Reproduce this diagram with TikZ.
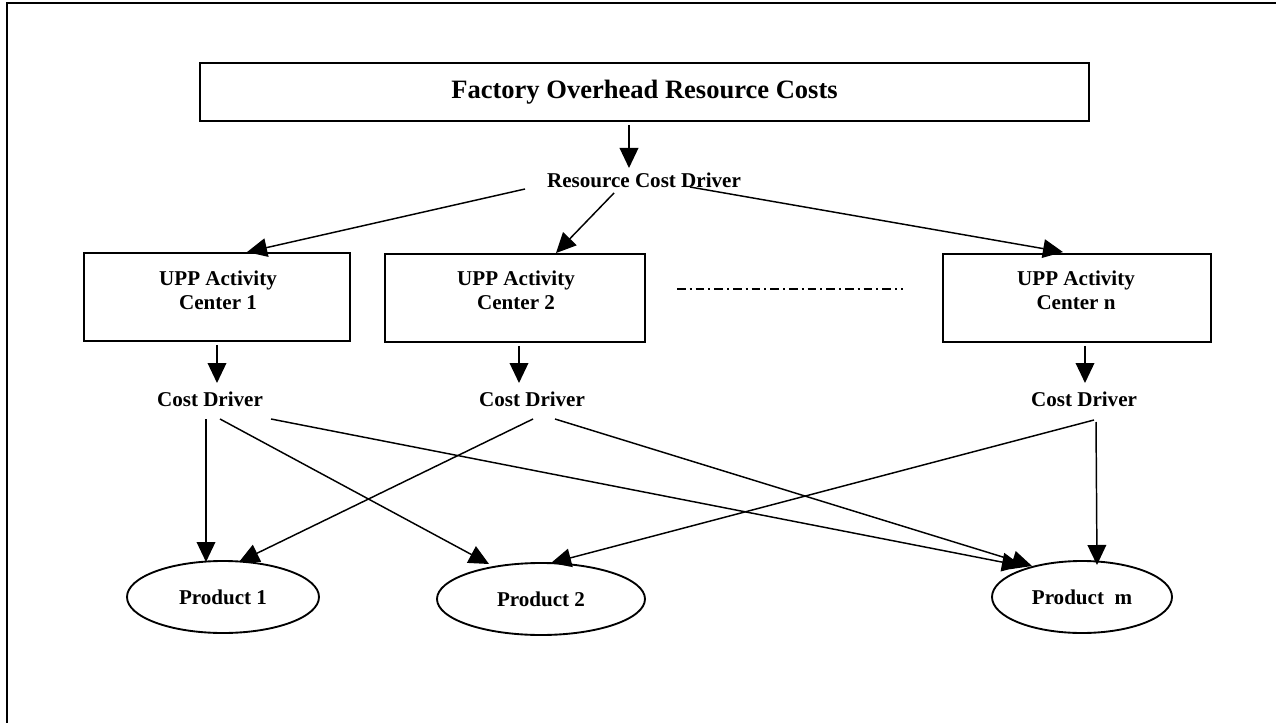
\documentclass[tikz,border=0pt]{standalone}
\usepackage{fontspec}
\setmainfont{Liberation Serif}
\usetikzlibrary{arrows.meta,shapes.geometric,calc}

\begin{document}
\begin{tikzpicture}[x=0.75pt,y=-0.75pt,
  box/.style={draw,line width=1.4pt,inner sep=0pt},
  lbl/.style={font=\bfseries\fontsize{15.8}{18}\selectfont,align=center,inner sep=0pt},
  prod/.style={draw,ellipse,line width=1.4pt,inner sep=0pt,minimum height=54pt,
    font=\bfseries\fontsize{15.8}{18}\selectfont},
  arr/.style={line width=1.1pt,-{Triangle[length=15pt,width=14pt]}},
  dashdot line/.style={line width=1.1pt,dash pattern=on 6.5pt off 3pt on 1.5pt off 3pt}
]
\useasboundingbox (0,0) rectangle (1276,723);
\fill[white] (0,0) rectangle (1276,723);

% outer frame
\draw[line width=2pt] (7,730) -- (7,3) -- (1290,3);

% resource pool
\node[box,minimum width=666.75pt,minimum height=43.5pt,
  font=\bfseries\fontsize{19.9}{22}\selectfont] (top) at (644.5,92) {Factory Overhead Resource Costs};
\node[lbl] (rcd) at (644,180) {Resource Cost Driver};

% activity centers
\node[box,minimum width=199.5pt,minimum height=66pt] (u1) at (217,297) {};
\node[box,minimum width=195pt,minimum height=66pt] (u2) at (515,298) {};
\node[box,minimum width=201pt,minimum height=66pt] (un) at (1077,298) {};
\node[lbl] (u1t) at (218,290) {UPP Activity\\Center 1};
\node[lbl] (u2t) at (516,290) {UPP Activity\\Center 2};
\node[lbl] (unt) at (1076,290) {UPP Activity\\Center n};

% ellipsis between centers
\coordinate (dl) at (677,289);
\coordinate (dr) at (903,289);
\draw[dashdot line] (dl) -- (dr);

% activity cost drivers
\node[lbl] (cd1) at (210,399) {Cost Driver};
\node[lbl] (cd2) at (532,399) {Cost Driver};
\node[lbl] (cdn) at (1084,399) {Cost Driver};

% products
\node[prod,minimum width=144pt] (p1) at (223,597) {Product 1};
\node[prod,minimum width=156pt] (p2) at (541,599) {Product 2};
\node[prod,minimum width=135pt] (pm) at (1082,597) {Product~~m};

% resource stage
\draw[arr] ($(top.south)+(-15.5,3)$) -- ($(rcd)+(-15,-12)$);
\draw[arr] ($(rcd)+(-119,9)$) -- ($(u1.north)+(30,0)$);
\draw[arr] ($(rcd)+(-30,13)$) -- ($(u2.north)+(41,0)$);
\draw[arr] ($(rcd)+(46,7)$) -- ($(un.north)+(-14,-1)$);

% activity stage
\draw[arr] ($(u1.south)+(0,3)$) -- ($(cd1)+(7,-16)$);
\draw[arr] ($(u2.south)+(4,3)$) -- ($(cd2)+(-13,-16)$);
\draw[arr] ($(un.south)+(8,3)$) -- ($(cdn)+(1,-16)$);

% product stage
\draw[arr] ($(cd1)+(-4,20)$) -- ($(p1)+(-17,-35)$);
\draw[arr] ($(cd1)+(10,20)$) -- ($(p2)+(-52,-35)$);
\draw[arr] ($(cd1)+(61,20)$) -- ($(pm)+(-60,-31)$);
\draw[arr] ($(cd2)+(1,20)$) -- ($(p1)+(16,-35)$);
\draw[arr] ($(cd2)+(23,20)$) -- ($(pm)+(-50,-31)$);
\draw[arr] ($(cdn)+(10,21)$) -- ($(p2)+(10,-36)$);
\draw[arr] ($(cdn)+(12,23)$) -- ($(pm)+(15,-32)$);
\end{tikzpicture}
\end{document}
